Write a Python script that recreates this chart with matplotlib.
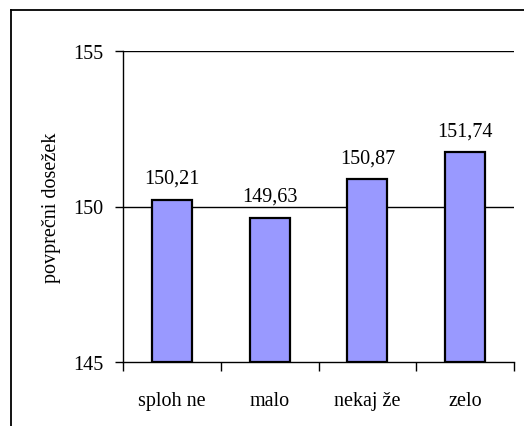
import matplotlib
matplotlib.use("Agg")
import matplotlib.pyplot as plt
from matplotlib.lines import Line2D

categories = ["sploh ne", "malo", "nekaj že", "zelo"]
values = [150.21, 149.63, 150.87, 151.74]
value_labels = ["150,21", "149,63", "150,87", "151,74"]
yticks = [145, 150, 155]

plt.rcParams['font.family'] = ['Liberation Serif', 'DejaVu Serif']
W, H = 524, 427
fig = plt.figure(figsize=(W/100, H/100), dpi=100)
ax = fig.add_axes([123/W, 1-363/H, (514-123)/W, (363-52)/H])

x = list(range(len(categories)))
ax.bar(x, [v - 145 for v in values], bottom=145, width=0.41,
       color='#9999FF', edgecolor='black', linewidth=1.6, zorder=3)
for xi, v, lab in zip(x, values, value_labels):
    ax.text(xi, v + 0.55, lab, ha='center', va='baseline', fontsize=14.5)

ax.set_xlim(-0.5, len(categories) - 0.5)
ax.set_ylim(145, 155)
ax.set_yticks(yticks)
ax.set_yticklabels([str(t) for t in yticks], fontsize=14.5)
for t in yticks[1:]:
    ax.axhline(t, color='black', linewidth=1, zorder=1)

ax.set_xticks([i - 0.5 for i in range(len(categories) + 1)], minor=False)
ax.set_xticklabels([])
ax.set_xticks(x, minor=True)
ax.set_xticklabels(categories, minor=True, fontsize=14.5)
ax.tick_params(axis='x', which='major', direction='out', length=6.5, width=1)
ax.tick_params(axis='x', which='minor', length=0, pad=21)
ax.tick_params(axis='y', direction='out', length=6, width=1, pad=8)

for s in ['top', 'right']:
    ax.spines[s].set_visible(False)
for s in ['left', 'bottom']:
    ax.spines[s].set_linewidth(1)
ax.set_ylabel("povprečni dosežek", fontsize=14.5, labelpad=9)

fig.add_artist(Line2D([11/W, 11/W], [0, 1-11/H], color='black', linewidth=1.3, transform=fig.transFigure))
fig.add_artist(Line2D([11/W, 1], [1-11/H, 1-11/H], color='black', linewidth=1.3, transform=fig.transFigure))

fig.savefig("out.png", dpi=100)
